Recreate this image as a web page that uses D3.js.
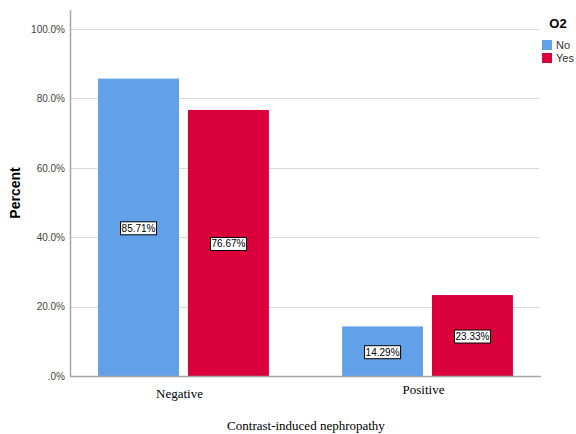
<!DOCTYPE html>
<html><head><meta charset="utf-8">
<script src="https://cdn.jsdelivr.net/npm/d3@7"></script>
<style>body{margin:0;background:#fff}</style>
</head><body>
<svg id="c" width="576" height="434"></svg>
<script>
const categories = ["Negative", "Positive"];
const seriesNames = ["No", "Yes"];
const noValues = [85.71, 14.29];
const yesValues = [76.67, 23.33];
const yTicks = [0, 20, 40, 60, 80, 100];
const colors = ["#62a0e8", "#d9003b"];

const svg = d3.select("#c");
const L = 70, R = 541, T = 10, B = 376;
const y = d3.scaleLinear().domain([0, 100]).range([B, 29]);
const x0 = d3.scaleBand().domain(categories).range([L, R]).paddingInner(0.3).paddingOuter(0.115);
const x1 = d3.scaleBand().domain(seriesNames).range([0, x0.bandwidth()]).paddingInner(0.1);

// gridlines
svg.append("g").selectAll("line").data(yTicks.filter(d => d > 0)).join("line")
  .attr("x1", L).attr("x2", R - 2).attr("y1", d => Math.round(y(d)) + 0.5).attr("y2", d => Math.round(y(d)) + 0.5)
  .attr("stroke", "#d9d9d9").attr("stroke-width", 1);

// bars
const data = categories.map((c, i) => ({cat: c, vals: [noValues[i], yesValues[i]]}));
const g = svg.append("g").selectAll("g").data(data).join("g")
  .attr("transform", d => `translate(${x0(d.cat)},0)`);
g.selectAll("rect").data(d => d.vals.map((v, j) => ({s: seriesNames[j], v, j}))).join("rect")
  .attr("x", d => x1(d.s)).attr("width", x1.bandwidth())
  .attr("y", d => y(d.v)).attr("height", d => B - y(d.v))
  .attr("fill", d => colors[d.j]);

// value labels
const lab = g.selectAll("g.lab").data(d => d.vals.map((v, j) => ({s: seriesNames[j], v, j}))).join("g")
  .attr("class", "lab")
  .attr("transform", d => `translate(${x1(d.s) + x1.bandwidth() / 2},${(y(d.v) + B) / 2 + 1})`);
lab.append("rect").attr("x", -18).attr("y", -6.5).attr("width", 36).attr("height", 13)
  .attr("fill", "#fff").attr("stroke", "#000").attr("stroke-width", 1);
lab.append("text").attr("text-anchor", "middle").attr("dy", "0.35em")
  .attr("font-family", "Liberation Sans, Arial, sans-serif").attr("font-size", 10).attr("fill", "#000")
  .text(d => d.v.toFixed(2) + "%");

// y axis
const yAxis = d3.axisLeft(y).tickValues(yTicks).tickSize(0).tickPadding(5)
  .tickFormat(d => d === 0 ? ".0%" : d.toFixed(1) + "%");
const ya = svg.append("g").attr("transform", `translate(${L},0)`).call(yAxis);
ya.select(".domain").remove();
ya.selectAll("text").attr("font-family", "Liberation Sans, Arial, sans-serif").attr("font-size", 10).attr("fill", "#444");
svg.append("line").attr("x1", L + 0.5).attr("x2", L + 0.5).attr("y1", T).attr("y2", B + 1).attr("stroke", "#a6a6a6").attr("stroke-width", 1.5);
svg.append("line").attr("x1", L).attr("x2", R).attr("y1", B + 0.5).attr("y2", B + 0.5).attr("stroke", "#a6a6a6").attr("stroke-width", 1.5);

// x labels
const xOff = [{dy: 22}, {dy: 18}];
svg.append("g").selectAll("text").data(categories).join("text")
  .attr("x", d => x0(d) + x0.bandwidth() / 2 - 4)
  .attr("y", (d, i) => B + xOff[i].dy)
  .attr("text-anchor", "middle").attr("font-family", "Liberation Serif, Times New Roman, serif")
  .attr("font-size", 13).attr("fill", "#000").text(d => d);

svg.append("text").attr("x", 306).attr("y", 430).attr("text-anchor", "middle")
  .attr("font-family", "Liberation Serif, Times New Roman, serif").attr("font-size", 13).attr("fill", "#000")
  .text("Contrast-induced nephropathy");

svg.append("text").attr("transform", "translate(20,193) rotate(-90)").attr("text-anchor", "middle")
  .attr("font-family", "Liberation Sans, Arial, sans-serif").attr("font-size", 14).attr("font-weight", "bold")
  .attr("fill", "#000").text("Percent");

// legend
svg.append("text").attr("x", 558).attr("y", 28).attr("text-anchor", "middle")
  .attr("font-family", "Liberation Sans, Arial, sans-serif").attr("font-size", 13).attr("font-weight", "bold")
  .text("O2");
const lg = svg.append("g").selectAll("g").data(seriesNames).join("g")
  .attr("transform", (d, i) => `translate(542,${40 + i * 13})`);
lg.append("rect").attr("width", 10).attr("height", 10).attr("fill", (d, i) => colors[i]);
lg.append("text").attr("x", 14).attr("y", 5).attr("dy", "0.35em")
  .attr("font-family", "Liberation Sans, Arial, sans-serif").attr("font-size", 11).attr("fill", "#333").text(d => d);
</script>
</body></html>
